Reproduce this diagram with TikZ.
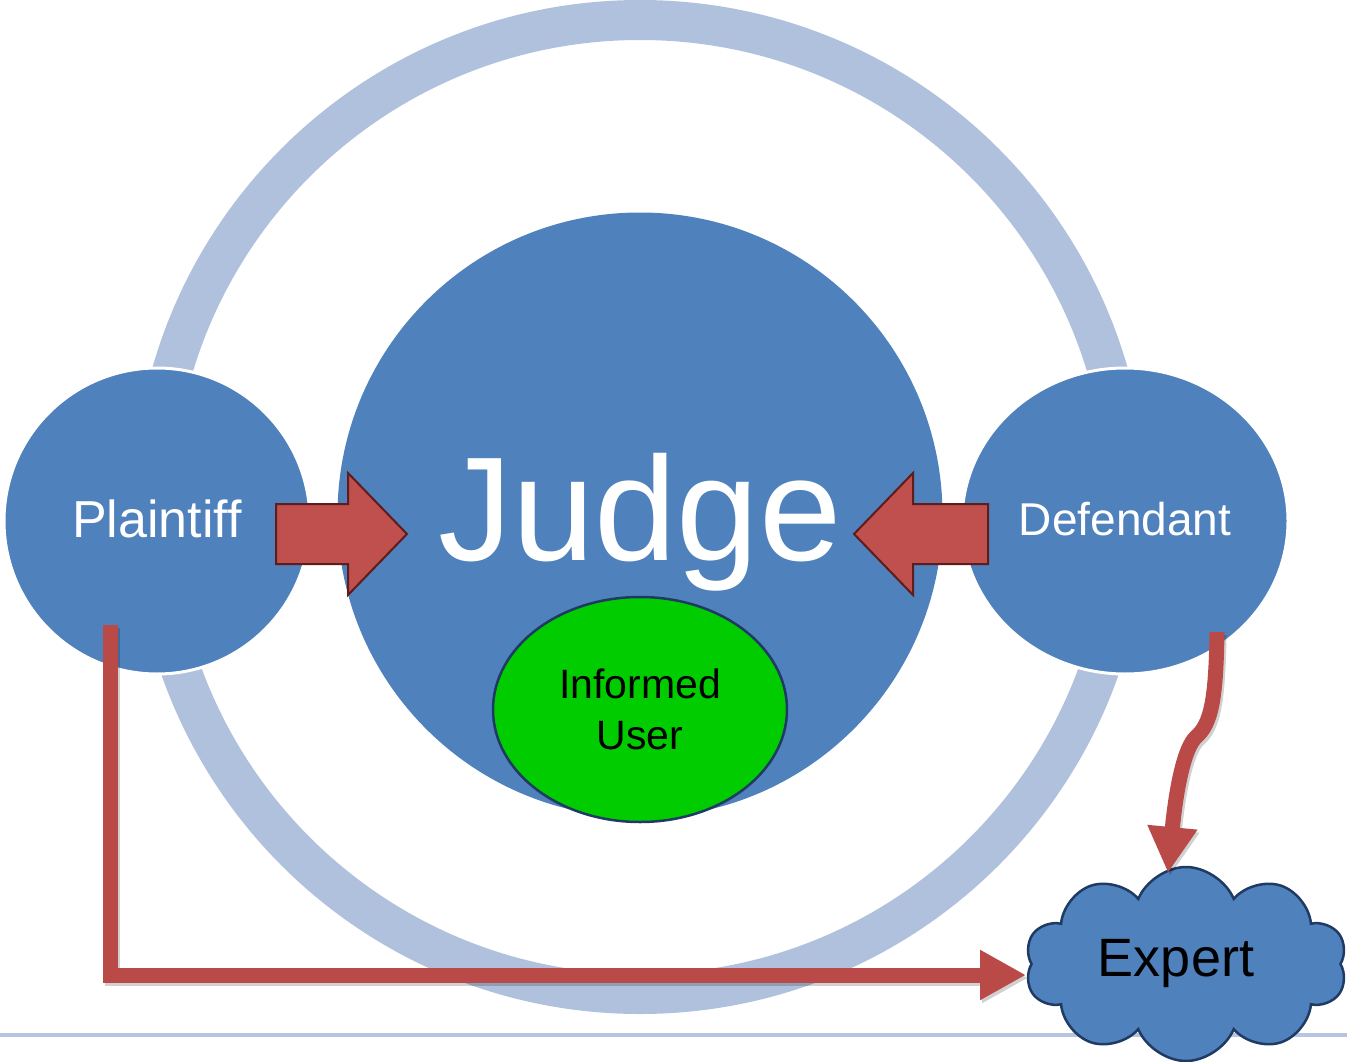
\documentclass[tikz,border=0pt]{standalone}
\usepackage{fontspec}
\setmainfont{Liberation Sans}
\usetikzlibrary{shapes.geometric,shapes.symbols,arrows.meta,calc}
\definecolor{jblue}{HTML}{4F81BD}
\definecolor{ringblue}{HTML}{B0C1DD}
\definecolor{lineblue}{HTML}{B9C4E2}
\definecolor{arrred}{HTML}{C0504D}
\definecolor{arrdark}{HTML}{5E1C1A}
\definecolor{connred}{HTML}{B94A47}
\definecolor{navy}{HTML}{1F3A63}
\definecolor{ugreen}{HTML}{00CC00}
\tikzset{
  bigcirc/.style={circle, fill=jblue, inner sep=0pt},
  party/.style={ellipse, fill=jblue, draw=white, line width=3pt, inner sep=0pt,
     text=white, text depth=0pt},
  blockarrow/.style={fill=arrred, draw=arrdark, line width=2pt, line join=miter},
  conn/.style={draw=connred, line width=15pt, line join=miter,
     -{Triangle[length=46pt,width=47pt]}},
  connshadow/.style={draw=black, opacity=0.18, line width=15pt, line join=miter,
     -{Triangle[length=46pt,width=47pt]}},
}
\begin{document}
\begin{tikzpicture}[x=1pt,y=-1pt]
\useasboundingbox (0,0) rectangle (1347,1062);
% bottom rule
\draw[lineblue, line width=4pt] (0,1035) -- (1347,1035);
% ring
\draw[ringblue, line width=40pt] (640,507) circle[radius=487pt];
% judge
\node[bigcirc, minimum size=605pt] (jd) at (640,515) {};
\node[anchor=base, text=white, font=\fontsize{148}{170}\selectfont, inner sep=0pt] (jdt) at (640,560) {Judge};
% plaintiff / defendant
\node[party, minimum width=306pt, minimum height=306pt, text height=32pt, font=\fontsize{52}{62}\selectfont] (pl) at (157,521) {Plaintiff};
\node[party, minimum width=326pt, minimum height=306pt, text height=28pt, font=\fontsize{46}{55}\selectfont] (df) at (1125,521) {Defendant};
% informed user
\node[ellipse, fill=ugreen, draw=navy, line width=2.5pt, minimum width=294pt, minimum height=225pt,
      inner sep=0pt, align=center, font=\fontsize{41}{51}\selectfont] (iu) at (640,709.5) {Informed\\User};
% block arrows
\draw[blockarrow] (276,504) -- (348,504) -- (348,473) -- (407,534) -- (348,595) -- (348,564) -- (276,564) -- cycle;
\draw[blockarrow] (988,504) -- (913,504) -- (913,473) -- (854,534) -- (913,595) -- (913,564) -- (988,564) -- cycle;
% expert cloud
\node[cloud, cloud puffs=10, cloud puff arc=135, cloud ignores aspect, fill=jblue, draw=navy, line width=2.5pt,
      minimum width=322pt, minimum height=194pt, inner sep=0pt,
      font=\fontsize{54}{64}\selectfont] (ex) at (1186,964) {Expert\hspace*{20pt}};
% connectors
\coordinate (p0) at ($(pl.center)+(-47,104)$);
\coordinate (pe) at (1026,975);
\coordinate (d0) at ($(df.center)+(92,111)$);
\coordinate (de) at (1168,873);
\draw[connshadow, transform canvas={xshift=2pt,yshift=-3pt}] (p0) |- (pe);
\draw[conn] (p0) |- (pe);
\draw[connshadow, transform canvas={xshift=2pt,yshift=-3pt}] (d0) .. controls (1216,700) and (1211,724) .. (1196,737) .. controls (1184,748) and (1176,790) .. (de);
\draw[conn] (d0) .. controls (1216,700) and (1211,724) .. (1196,737) .. controls (1184,748) and (1176,790) .. (de);
\end{tikzpicture}
\end{document}
